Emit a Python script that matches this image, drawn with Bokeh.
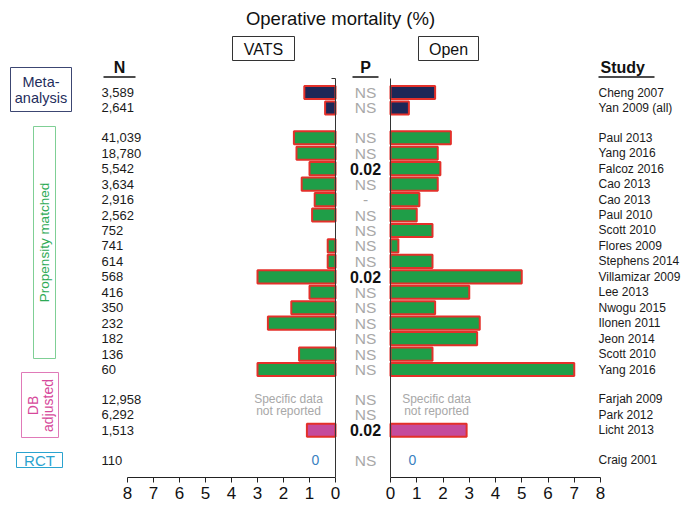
import math
from bokeh.plotting import figure
from bokeh.models import Range1d, SingleIntervalTicker
from bokeh.layouts import column, row
from bokeh.core.properties import value
from bokeh.embed import file_html
from bokeh.resources import INLINE

nan = float("nan")

# ---------------- data ----------------
groups = ["meta", "meta"] + ["ps"] * 16 + ["db"] * 3 + ["rct"]
n_labels = ["3,589", "2,641", "41,039", "18,780", "5,542", "3,634", "2,916", "2,562",
            "752", "741", "614", "568", "416", "350", "232", "182", "136", "60",
            "12,958", "6,292", "1,513", "110"]
studies = ["Cheng 2007", "Yan 2009 (all)", "Paul 2013", "Yang 2016", "Falcoz 2016",
           "Cao 2013", "Cao 2013", "Paul 2010", "Scott 2010", "Flores 2009",
           "Stephens 2014", "Villamizar 2009", "Lee 2013", "Nwogu 2015", "Ilonen 2011",
           "Jeon 2014", "Scott 2010", "Yang 2016", "Farjah 2009", "Park 2012",
           "Licht 2013", "Craig 2001"]
p_values = ["NS", "NS", "NS", "NS", "0.02", "NS", "-", "NS", "NS", "NS", "NS", "0.02",
            "NS", "NS", "NS", "NS", "NS", "NS", "NS", "NS", "0.02", "NS"]
vats_mort = [1.2, 0.4, 1.6, 1.5, 1.0, 1.3, 0.8, 0.9, 0.0, 0.3, 0.3, 3.0, 1.0, 1.7,
             2.6, 0.0, 1.4, 3.0, nan, nan, 1.1, 0.0]
open_mort = [1.7, 0.7, 2.3, 1.8, 1.9, 1.8, 1.1, 1.0, 1.6, 0.3, 1.6, 5.0, 3.0, 1.7,
             3.4, 3.3, 1.6, 7.0, nan, nan, 2.9, 0.0]
group_names = ["meta", "ps", "db", "rct"]
group_colors = {"meta": "#1d2757", "ps": "#1f9e48", "db": "#c54b9c", "rct": "#2aa3cf"}
axis_ticks_max = 8

# ---------------- layout helpers (pixel -> data) ----------------
FONT = "Liberation Sans"
GAP = 0.93
ROW_PX = 15.45


def lx(px):  # left (VATS) panel, 0 at 335px, 26 px / unit, reversed
    return (335 - px) / 26.0


def rx(px):  # right (Open) panel, 0 at 390px, 26.25 px / unit
    return (px - 390) / 26.25


def sy(py):
    return (py - 92) / ROW_PX


slots = [i + GAP * group_names.index(g) for i, g in enumerate(groups)]
colors = [group_colors[g] for g in groups]

yr = Range1d(sy(477), sy(32))


def base_fig(xr, fw):
    p = figure(frame_width=fw, frame_height=445, x_range=xr, y_range=yr,
               output_backend="svg", toolbar_location=None, min_border=0,
               y_axis_location=None)
    p.grid.visible = False
    p.outline_line_color = None
    ax = p.xaxis[0]
    ax.ticker = SingleIntervalTicker(interval=1)
    ax.bounds = (0, axis_ticks_max)
    ax.minor_tick_line_color = None
    ax.major_tick_in = 0
    ax.major_tick_out = 5
    ax.major_label_standoff = 4
    ax.major_label_text_font = FONT
    ax.major_label_text_font_size = "17px"
    ax.major_label_text_color = "#111111"
    ax.axis_line_color = "#222222"
    ax.major_tick_line_color = "#222222"
    return p


def txt(p, x, y, t, size, color="#1a1a1a", align="left", bold=False, angle=0):
    p.text(x=x, y=y, text=t, text_font=value(FONT), text_font_size=value(size),
           text_align=align, text_baseline="middle", text_color=color,
           text_font_style="bold" if bold else "normal", angle=angle)


# ---------------- left figure (labels, N, VATS, P) ----------------
left = base_fig(Range1d(lx(0), lx(382)), 382)

vs = [(s, v, c) for s, v, c in zip(slots, vats_mort, colors) if v == v and v > 0]
left.hbar(y=[a[0] for a in vs], left=0, right=[a[1] for a in vs], height=0.85,
          fill_color=[a[2] for a in vs], line_color="#e3302a", line_width=2)

left.segment(x0=0, x1=0, y0=sy(78), y1=sy(477), line_color="#333333", line_width=1)
left.segment(x0=0, x1=lx(331), y0=sy(78), y1=sy(78), line_color="#333333", line_width=1)

# N column
txt(left, lx(101), slots, n_labels, "13px")

# P column
ns_idx = [i for i, pv in enumerate(p_values) if pv != "0.02"]
sig_idx = [i for i, pv in enumerate(p_values) if pv == "0.02"]
txt(left, lx(365), [slots[i] for i in ns_idx], [p_values[i] for i in ns_idx], "15.5px",
    color="#a8a8a8", align="center")
txt(left, lx(365), [slots[i] for i in sig_idx], [p_values[i] for i in sig_idx], "16px",
    color="#111111", align="center", bold=True)

# headers
txt(left, [lx(119), lx(365)], sy(67), ["N", "P"], "16px", color="#111111",
    align="center", bold=True)
left.segment(x0=[lx(103), lx(352)], x1=[lx(135), lx(378)], y0=sy(76.5), y1=sy(76.5),
             line_color="#111111", line_width=1.5)

# VATS box
left.quad(left=lx(232), right=lx(294), top=sy(36), bottom=sy(60), fill_alpha=0,
          line_color="#333333", line_width=1)
txt(left, lx(263), sy(48.5), ["VATS"], "16px", color="#111111", align="center")

# not reported / zero labels
db_first = slots[groups.index("db")]
txt(left, lx(288), [db_first, db_first + 0.78], ["Specific data", "not reported"],
    "12px", color="#a8a8a8", align="center")
rct_slot = slots[groups.index("rct")]
txt(left, lx(315), rct_slot, ["0"], "14px", color="#3a7fc1", align="center")

# group boxes
left.quad(left=lx(10), right=lx(71), top=sy(67), bottom=sy(111), fill_alpha=0,
          line_color="#3c4672", line_width=1)
txt(left, lx(40.5), [sy(81), sy(97)], ["Meta-", "analysis"], "14.5px",
    color="#1f2d5c", align="center")
left.quad(left=lx(33), right=lx(55), top=sy(126), bottom=sy(358), fill_alpha=0,
          line_color="#7fcf95", line_width=1)
txt(left, lx(44), sy(242), ["Propensity matched"], "13.5px", color="#2eaa55",
    align="center", angle=math.pi / 2)
left.quad(left=lx(21), right=lx(58), top=sy(372), bottom=sy(437), fill_alpha=0,
          line_color="#e07ab8", line_width=1)
txt(left, [lx(32), lx(47)], sy(405), ["DB", "adjusted"], "14px", color="#d6489a",
    align="center", angle=math.pi / 2)
left.quad(left=lx(16), right=lx(62), top=sy(452), bottom=sy(467), fill_alpha=0,
          line_color="#2aa3cf", line_width=1)
txt(left, lx(39), sy(459.5), ["RCT"], "15px", color="#2aa3cf", align="center")

# ---------------- right figure (Open, Study) ----------------
right = base_fig(Range1d(rx(382), rx(682)), 300)
os_ = [(s, v, c) for s, v, c in zip(slots, open_mort, colors) if v == v and v > 0]
right.hbar(y=[a[0] for a in os_], left=0, right=[a[1] for a in os_], height=0.85,
           fill_color=[a[2] for a in os_], line_color="#e3302a", line_width=2)
right.segment(x0=0, x1=0, y0=sy(78), y1=sy(477), line_color="#333333", line_width=1)

txt(right, rx(598), slots, studies, "12px")
txt(right, rx(600), sy(67), ["Study"], "16px", color="#111111", bold=True)
right.segment(x0=rx(598), x1=rx(654), y0=sy(76.5), y1=sy(76.5), line_color="#111111",
              line_width=1.5)

right.quad(left=rx(418), right=rx(478), top=sy(36), bottom=sy(60), fill_alpha=0,
           line_color="#333333", line_width=1)
txt(right, rx(448), sy(48.5), ["Open"], "16px", color="#111111", align="center")
txt(right, rx(436), [db_first, db_first + 0.78], ["Specific data", "not reported"],
    "12px", color="#a8a8a8", align="center")
txt(right, rx(412), rct_slot, ["0"], "14px", color="#3a7fc1", align="center")

# ---------------- title strip ----------------
top = figure(frame_width=682, frame_height=32, x_range=Range1d(0, 682),
             y_range=Range1d(32, 0), output_backend="svg", toolbar_location=None,
             min_border=0, x_axis_location=None, y_axis_location=None)
top.grid.visible = False
top.outline_line_color = None
txt(top, 340, 18, ["Operative mortality (%)"], "18.5px", color="#111111", align="center")

layout = column(top, row(left, right, spacing=0), spacing=0)
open("out.html", "w").write(file_html(layout, INLINE))
